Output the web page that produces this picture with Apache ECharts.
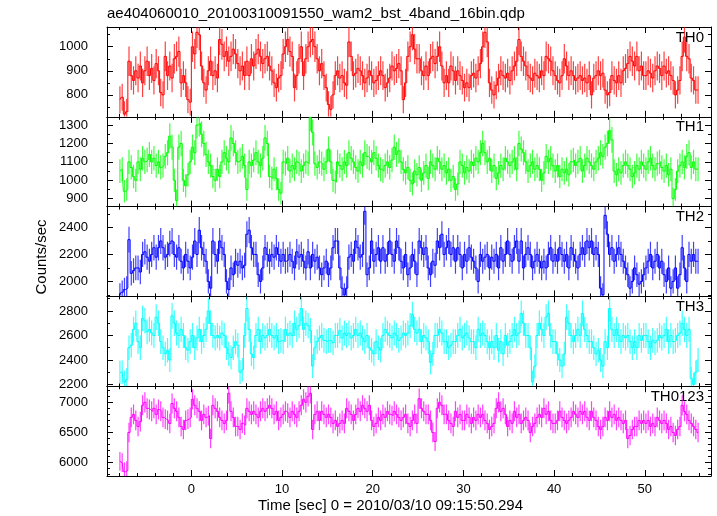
<!DOCTYPE html>
<html><head><meta charset="utf-8">
<script src="https://cdn.jsdelivr.net/npm/echarts@6/dist/echarts.min.js"></script>
<style>html,body{margin:0;padding:0;background:#fff}#c{width:717px;height:516px}</style>
</head><body><div id="c"></div>
<script>
// time bins: start (sec) and width (sec) of each 16-bin (0.25 s) sample
const binStart = -8.0;
const binWidth = 0.25;

const th0 = [
780,790,720,730, 940,880,860,900, 870,920,850,900, 940,880,910,860,
930,900,810,800, 960,880,920,870, 950,960,980,850, 880,850,780,770,
1000,970,1060,1050, 920,850,820,900, 940,880,900,870, 1030,1010,960,980,
940,960,990,970, 930,900,920,880, 940,880,950,920, 970,990,960,930,
950,960,920,900, 850,830,870,880, 970,1000,1030,980, 960,830,880,950,
1000,880,950,1000, 1020,1030,1000,950, 900,930,880,830, 760,740,800,880,
900,870,880,850, 840,1020,960,880, 890,910,900,880, 850,870,900,880,
850,860,880,900, 880,830,850,870, 920,900,910,930, 900,780,850,960,
1000,1050,990,950, 950,900,880,920, 880,950,960,930, 960,1000,920,850,
880,850,920,900, 860,900,880,860, 830,850,830,880, 890,870,900,930,
1000,1060,1020,850, 820,800,840,870, 900,880,870,890, 860,900,920,940,
1030,960,940,920, 880,870,860,890, 880,870,900,880, 960,950,940,900,
880,860,850,880, 950,920,880,900, 880,860,870,880, 860,870,850,880,
800,870,880,900, 880,890,820,800, 810,880,860,850, 880,850,900,910,
930,960,940,920, 960,900,920,880, 880,900,890,870, 900,920,910,880,
920,890,900,880, 860,800,820,860, 960,1040,960,950, 870,860,820,820
];
const th1 = [
1050,1060,940,950, 1100,1070,1020,1000, 1100,1060,1120,1100, 1110,1140,1100,1120,
1080,1100,1070,1080, 1130,1150,1240,1180, 1000,890,1180,1200, 1000,970,1030,1100,
1180,1150,1300,1310, 1250,1200,1140,1100, 1080,1020,1000,1060, 1020,1100,1150,1120,
1100,1230,1200,1150, 1100,1110,1130,1080, 950,1100,1080,1110, 1150,1100,1080,1120,
1230,1200,1020,1010, 1060,1010,950,930, 1100,1090,1120,1050, 1080,1060,1100,1090,
1050,1080,1100,1090, 1340,1260,1090,1070, 1100,1090,1060,1100, 1170,1100,1000,990,
1100,1080,1060,1100, 1080,1150,1120,1100, 1070,1050,1100,1080, 1150,1130,1120,1100,
1150,1120,1080,1060, 1050,1080,1100,1070, 1110,1180,1140,1160, 1100,1060,1040,1070,
1000,980,1050,1030, 1070,1000,1040,1080, 1010,1100,1080,1060, 1120,1100,1060,1080,
1040,1060,1000,1020, 950,980,1100,1080, 1040,1070,1050,1100, 1080,1120,1100,1150,
1200,1150,1100,1120, 1050,1080,1010,1040, 1080,1060,1120,1100, 1080,1100,1120,1060,
1200,1170,1150,1100, 1050,1080,1100,1060, 1080,1060,1000,1040, 1130,1100,1120,1080,
1050,1080,1020,1060, 1040,1060,1030,1100, 1110,1080,1100,1120, 1050,1080,1120,1100,
1080,1060,1100,1120, 1150,1130,1180,1200, 1270,1220,1050,1030, 1060,1040,1080,1100,
1080,1060,1020,1040, 1080,1060,1100,1080, 1060,1100,1120,1080, 1060,1090,1100,1070,
1050,1080,1030,1060, 900,950,1050,1080, 1100,1070,1130,1150, 1070,1100,1060,1060
];
const th2 = [
1900,1920,1940,1950, 2310,2060,2080,2100, 2100,2070,2200,2220, 2180,2150,2200,2250,
2180,2250,2300,2250, 2180,2200,2280,2300, 2200,2180,2250,2150, 2100,2200,2150,2100,
2180,2300,2200,2380, 2250,2200,2150,2000, 1950,2300,2200,2150, 2300,2250,2200,2000,
1940,2100,2050,2150, 2120,2150,2100,2120, 2350,2380,2250,2200, 2200,2050,2000,2100,
2250,2200,2150,2200, 2180,2250,2200,2150, 2200,2150,2160,2200, 2150,2100,2220,2180,
2200,2150,2100,2220, 2100,2200,2150,2180, 2100,2050,2100,2150, 2050,2100,2250,2300,
2300,2100,1950,1900, 1950,2180,2200,2150, 2300,2250,2180,2200, 2520,2050,2100,2300,
2150,2200,2250,2150, 2250,2150,2200,2300, 2200,2150,2300,2250, 2150,2100,2200,2050,
2100,2200,2150,2050, 2300,2250,2200,2250, 2100,2050,2150,2120, 2300,2250,2350,2200,
2250,2300,2200,2250, 2150,2250,2200,2100, 2200,2150,2250,2180, 2150,2100,2000,2200,
2150,2180,2200,2100, 2180,2150,2200,2100, 2250,2150,2200,2300, 2200,2150,2250,2300,
2150,2300,2100,2200, 2250,2200,2100,2150, 2200,2150,2100,2150, 2100,2200,2250,2150,
2200,2150,2250,2200, 2150,2200,2100,2250, 2200,2150,2100,2200, 2250,2200,2300,2250,
2300,2200,2250,2200, 1950,1900,2490,2350, 2200,2250,2150,2200, 2250,2200,2150,2100,
2050,1950,2000,2100, 2050,1980,2000,2050, 2100,2150,2200,2100, 2150,2200,2100,2150,
2050,2000,2100,1950, 2000,2100,1950,2050, 2250,2100,2000,2200, 2150,2200,2150,2150
];
const th3 = [
2300,2300,2220,2240, 2500,2520,2650,2700, 2550,2500,2740,2720, 2630,2650,2620,2600,
2750,2700,2550,2500, 2450,2480,2400,2760, 2700,2620,2600,2650, 2600,2500,2480,2550,
2600,2500,2580,2650, 2550,2600,2650,2800, 2700,2600,2580,2600, 2580,2620,2600,2500,
2450,2420,2500,2550, 2520,2300,2320,2600, 2820,2650,2450,2420, 2600,2650,2550,2600,
2580,2600,2650,2600, 2580,2600,2550,2560, 2550,2650,2600,2620, 2600,2700,2650,2680,
2820,2650,2700,2680, 2640,2350,2500,2550, 2580,2600,2560,2550, 2560,2560,2540,2600,
2600,2640,2580,2620, 2600,2620,2580,2600, 2650,2600,2620,2580, 2550,2600,2500,2480,
2450,2550,2500,2480, 2600,2650,2620,2600, 2580,2620,2600,2560, 2580,2620,2600,2620,
2680,2770,2650,2620, 2650,2550,2600,2580, 2550,2380,2450,2600, 2600,2650,2620,2550,
2550,2500,2520,2550, 2550,2600,2650,2580, 2600,2620,2580,2550, 2550,2500,2650,2600,
2620,2600,2550,2500, 2550,2500,2600,2480, 2550,2450,2600,2520, 2550,2600,2650,2600,
2620,2780,2700,2600, 2600,2500,2220,2350, 2600,2700,2650,2600, 2750,2780,2600,2550,
2550,2450,2400,2350, 2450,2750,2700,2600, 2550,2600,2650,2600, 2780,2650,2600,2550,
2550,2500,2450,2480, 2400,2350,2550,2500, 2820,2650,2600,2650, 2600,2550,2600,2580,
2600,2550,2500,2550, 2500,2600,2560,2600, 2600,2550,2500,2560, 2540,2560,2600,2580,
2600,2650,2550,2600, 2550,2560,2600,2620, 2700,2650,2600,2650, 2250,2200,2300,2400
];
const th0123 = [
6020,6000,5850,5870, 6500,6750,6800,6700, 6600,6680,6950,7000, 6900,6880,6850,6900,
6800,6880,6850,6750, 6720,6700,6650,6980, 6900,6850,6750,6600, 6550,6700,6720,6750,
7050,6950,6900,6850, 6700,6800,6750,6780, 6400,6950,6900,6850, 6750,6700,6650,6700,
7150,6850,6750,6600, 6600,6550,6650,6620, 6900,6850,6800,6850, 6800,6750,6850,6900,
6850,6900,6950,6900, 6800,6850,6700,6750, 6800,6850,6820,6750, 6850,6800,6750,6850,
6950,7050,7000,7100, 7150,6550,6800,6850, 6700,6850,6800,6750, 6800,6750,6650,6700,
6600,6650,6700,6650, 6900,6850,6800,6700, 6800,6900,6850,6950, 6900,6850,6950,6700,
6600,6650,6750,6700, 6800,6750,6850,6800, 6780,6850,6800,6750, 6700,6750,6800,6650,
6600,6700,6800,6650, 7060,6900,6850,6800, 6800,6700,6500,6350, 6900,7000,6950,6800,
6800,6700,6650,6600, 6850,6750,6800,6700, 6700,6800,6750,6650, 6750,6700,6800,6750,
6800,6700,6650,6550, 6600,6650,6900,7000, 6850,6900,6800,6600, 6700,6650,6850,6750,
6800,6650,6700,6750, 6700,6500,6600,6650, 6750,6800,6750,6900, 6800,6850,6700,6650,
6650,6700,6850,6750, 6700,6650,6700,6750, 6850,6800,6750,6850, 6800,6850,6750,6700,
6850,6750,6700,6600, 6550,6600,6750,6700, 6850,6750,6800,6700, 6750,6700,6650,6700,
6400,6450,6550,6600, 6600,6700,6650,6700, 6650,6700,6600,6650, 6600,6750,6700,6650,
6700,6650,6550,6600, 6500,6450,6550,6600, 6950,6850,6800,6700, 6650,6600,6550,6500
];

const panelSeries = [th0, th1, th2, th3, th0123];
const panelNames = ['TH0', 'TH1', 'TH2', 'TH3', 'TH0123'];
const panelColors = ['#ff0000', '#00ff00', '#0000ff', '#00ffff', '#ff00ff'];
const yMin = [709, 857, 1889, 2186, 5778];
const yMax = [1082, 1345, 2555, 2919, 7267];
const yMajorTicks = [[800, 900, 1000], [900, 1000, 1100, 1200, 1300], [2000, 2200, 2400], [2200, 2400, 2600, 2800], [6000, 6500, 7000]];
const yMinorStep = [50, 50, 100, 100, 100];
const xMin = -9.3, xMax = 57.3;
const xMajorTicks = [0, 10, 20, 30, 40, 50];
const xMinorStep = 2;

const titleText = 'ae404060010_20100310091550_wam2_bst_4band_16bin.qdp';
const xTitle = 'Time [sec] 0 = 2010/03/10 09:15:50.294';
const yTitle = 'Counts/sec';

const FONT = '"Liberation Sans", Helvetica, Arial, sans-serif';
const gridLeft = 107, gridRight = 711, gridTop0 = 27, gridBottom = 476;
const nP = 5;
const gh = (gridBottom - gridTop0) / nP;

function stepValues(min, max, step, exclude) {
  const out = [];
  for (let v = Math.ceil(min / step) * step; v <= max; v += step) {
    if (exclude.indexOf(v) < 0) out.push(v);
  }
  return out;
}
const xMinorTicks = stepValues(xMin, xMax, xMinorStep, xMajorTicks);
const plain = v => String(v);

const grids = [], xAxes = [], yAxes = [], series = [], graphics = [];
for (let i = 0; i < nP; i++) {
  const top = gridTop0 + i * gh;
  grids.push({ left: gridLeft, width: gridRight - gridLeft, top: top, height: gh, containLabel: false });
  const axLine = { show: true, onZero: false, lineStyle: { color: '#000', width: 1 } };
  const noLine = { show: false, onZero: false };
  const yMinorTicks = stepValues(yMin[i], yMax[i], yMinorStep[i], yMajorTicks[i]);
  const yBase = { type: 'value', gridIndex: i, min: yMin[i], max: yMax[i], splitLine: { show: false }, scale: true };
  yAxes.push(Object.assign({}, yBase, { position: 'left', axisLine: axLine,
    axisTick: { inside: true, length: 6, customValues: yMajorTicks[i], lineStyle: { color: '#000' } },
    axisLabel: { customValues: yMajorTicks[i], formatter: plain, color: '#000', fontSize: 13, fontFamily: FONT, margin: 19 } }));
  yAxes.push(Object.assign({}, yBase, { position: 'left', axisLine: noLine,
    axisTick: { inside: true, length: 3, customValues: yMinorTicks, lineStyle: { color: '#000' } },
    axisLabel: { show: false } }));
  yAxes.push(Object.assign({}, yBase, { position: 'right', axisLine: axLine,
    axisTick: { inside: true, length: 6, customValues: yMajorTicks[i], lineStyle: { color: '#000' } },
    axisLabel: { show: false } }));
  yAxes.push(Object.assign({}, yBase, { position: 'right', axisLine: noLine,
    axisTick: { inside: true, length: 3, customValues: yMinorTicks, lineStyle: { color: '#000' } },
    axisLabel: { show: false } }));
  const xBase = { type: 'value', gridIndex: i, min: xMin, max: xMax, splitLine: { show: false } };
  xAxes.push(Object.assign({}, xBase, { position: 'bottom', axisLine: axLine,
    axisTick: { inside: true, length: 6, customValues: xMajorTicks, lineStyle: { color: '#000' } },
    axisLabel: { show: i === nP - 1, customValues: xMajorTicks, formatter: plain, color: '#000', fontSize: 13, fontFamily: FONT, margin: 7 } }));
  xAxes.push(Object.assign({}, xBase, { position: 'bottom', axisLine: noLine,
    axisTick: { inside: true, length: 3, customValues: xMinorTicks, lineStyle: { color: '#000' } },
    axisLabel: { show: false } }));
  xAxes.push(Object.assign({}, xBase, { position: 'top', axisLine: axLine,
    axisTick: { inside: true, length: 6, customValues: xMajorTicks, lineStyle: { color: '#000' } },
    axisLabel: { show: false } }));
  xAxes.push(Object.assign({}, xBase, { position: 'top', axisLine: noLine,
    axisTick: { inside: true, length: 3, customValues: xMinorTicks, lineStyle: { color: '#000' } },
    axisLabel: { show: false } }));

  const vals = panelSeries[i];
  const pts = vals.map((v, k) => [binStart + binWidth * (k + 0.5), v, Math.sqrt(v * binWidth) / binWidth]);
  const color = panelColors[i];
  series.push({
    type: 'custom', xAxisIndex: 4 * i, yAxisIndex: 4 * i, data: pts, silent: true, clip: true,
    renderItem: function (params, api) {
      const x = api.value(0), y = api.value(1), e = api.value(2);
      const p1 = api.coord([x, y - e]), p2 = api.coord([x, y + e]);
      const cs = params.coordSys;
      const y1 = Math.min(Math.max(p1[1], cs.y), cs.y + cs.height);
      const y2 = Math.min(Math.max(p2[1], cs.y), cs.y + cs.height);
      return { type: 'line', shape: { x1: p1[0], y1: y1, x2: p2[0], y2: y2 },
        style: { stroke: color, lineWidth: 1.2, opacity: 0.75 } };
    }
  });
  series.push({
    type: 'line', xAxisIndex: 4 * i, yAxisIndex: 4 * i, step: 'middle', showSymbol: false, symbol: 'none',
    data: pts.map(p => [p[0], p[1]]), lineStyle: { color: color, width: 1 }, silent: true, clip: true
  });
  graphics.push({ type: 'text', right: 717 - 704, top: top + 3,
    style: { text: panelNames[i], font: '15px ' + FONT, fill: '#000' } });
}
graphics.push({ type: 'text', left: gridLeft, top: 6, style: { text: titleText, font: '15px ' + FONT, fill: '#000' } });
graphics.push({ type: 'text', left: 258, top: 498, style: { text: xTitle, font: '15px ' + FONT, fill: '#000' } });
graphics.push({ type: 'text', x: 42, y: 257, rotation: Math.PI / 2,
  style: { text: yTitle, font: '15px ' + FONT, fill: '#000', align: 'center', verticalAlign: 'middle' } });

const chart = echarts.init(document.getElementById('c'), null, { renderer: 'canvas' });
chart.setOption({
  animation: false, backgroundColor: '#fff',
  grid: grids, xAxis: xAxes, yAxis: yAxes, series: series, graphic: graphics
});
</script></body></html>
